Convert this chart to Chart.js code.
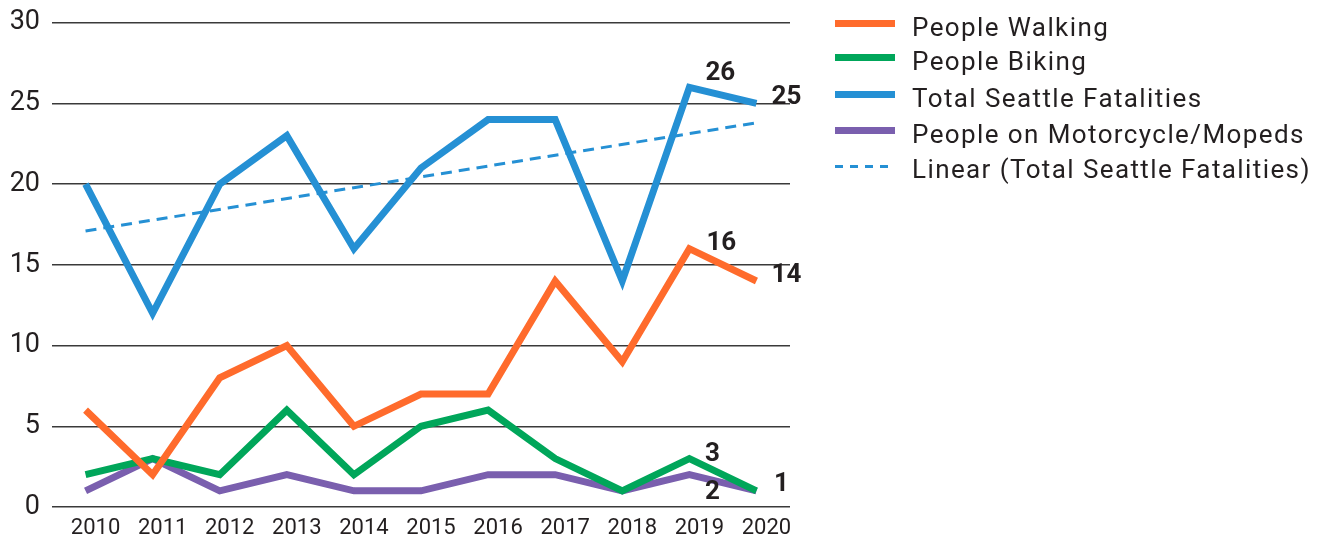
<!DOCTYPE html>
<html>
<head>
<meta charset="utf-8">
<script src="https://cdn.jsdelivr.net/npm/chart.js@4/dist/chart.umd.min.js"></script>
<style>
  html, body { margin: 0; padding: 0; background: #ffffff; overflow: hidden; }
  #wrap { position: relative; width: 1322px; height: 542px; }
  #c { position: absolute; left: 0; top: 0; }
  .lg { position: absolute; left: 835px; font-family: Roboto, "Noto Sans", sans-serif; font-size: 26px; letter-spacing: 1.4px; color: #231f20; white-space: nowrap; }
  .lg .sw { position: absolute; left: 0; width: 60px; height: 0; }
  .lg .tx { position: absolute; left: 77px; line-height: 30px; top: -12px; }
</style>
</head>
<body>
<div id="wrap">
  <canvas id="c" width="1322" height="542"></canvas>
  <div id="legend"></div>
</div>
<script>
// ---- data ----
const years = ['2010','2011','2012','2013','2014','2015','2016','2017','2018','2019','2020'];
const walking    = [6, 2, 8, 10, 5, 7, 7, 14, 9, 16, 14];
const biking     = [2, 3, 2, 6, 2, 5, 6, 3, 1, 3, 1];
const total      = [20, 12, 20, 23, 16, 21, 24, 24, 14, 26, 25];
const motorcycle = [1, 3, 1, 2, 1, 1, 2, 2, 1, 2, 1];
// linear trend end values (2010 and 2020)
const trendLine  = [17.1, null, null, null, null, null, null, null, null, null, 23.8];
const yTicks     = [0, 5, 10, 15, 20, 25, 30];
const seriesNames = ['People Walking', 'People Biking', 'Total Seattle Fatalities', 'People on Motorcycle/Mopeds', 'Linear (Total Seattle Fatalities)'];

// ---- styles ----
const colors = ['#ff6b2c', '#00a65a', '#2590d4', '#7a5fae', '#2590d4'];

// value labels: [datasetIndex, pointIndex, dx, dy]
const labelSpecs = [
  [2, 9, 31, -14], [2, 10, 30, -6],
  [0, 9, 32, -5],  [0, 10, 30, -5],
  [1, 9, 23, -4],  [1, 10, 25, -6],
  [3, 9, 23, 18]
];

const valueLabels = {
  id: 'valueLabels',
  afterDatasetsDraw(chart) {
    const ctx = chart.ctx;
    ctx.save();
    ctx.font = 'bold 26px Roboto, "Noto Sans", sans-serif';
    ctx.fillStyle = '#231f20';
    ctx.textAlign = 'center';
    ctx.textBaseline = 'middle';
    labelSpecs.forEach(([d, i, dx, dy]) => {
      const pt = chart.getDatasetMeta(d).data[i];
      const v = chart.data.datasets[d].data[i];
      ctx.fillText(String(v), pt.x + dx, pt.y + dy);
    });
    ctx.restore();
  }
};

const lineDs = (label, data, color, extra) => Object.assign({
  label, data, borderColor: color, backgroundColor: color,
  borderWidth: 7, pointRadius: 0, pointHoverRadius: 0, pointBorderWidth: 0,
  tension: 0, borderJoinStyle: 'miter', borderCapStyle: 'butt', fill: false
}, extra || {});

const chart = new Chart(document.getElementById('c'), {
  type: 'line',
  data: {
    labels: years,
    datasets: [
      lineDs(seriesNames[0], walking, colors[0]),
      lineDs(seriesNames[1], biking, colors[1]),
      lineDs(seriesNames[2], total, colors[2]),
      lineDs(seriesNames[3], motorcycle, colors[3]),
      lineDs(seriesNames[4], trendLine, colors[4], { borderWidth: 3, borderDash: [11, 7], spanGaps: true })
    ]
  },
  options: {
    responsive: false,
    animation: false,
    events: [],
    layout: { autoPadding: false, padding: { left: 10, right: 532, top: 22.7, bottom: 0 } },
    plugins: { legend: { display: false }, tooltip: { enabled: false } },
    scales: {
      x: {
        offset: true,
        grid: { display: false, drawTicks: false },
        border: { display: false },
        ticks: { font: { family: 'Roboto', size: 22 }, color: '#231f20', labelOffset: 10, padding: 8, maxRotation: 0, autoSkip: false },
        afterFit(axis) { axis.height = 35; axis.paddingLeft = 0; axis.paddingRight = 0; }
      },
      y: {
        min: 0, max: 30,
        afterBuildTicks(axis) { axis.ticks = yTicks.map(v => ({ value: v })); },
        grid: { color: '#3a3a3a', lineWidth: 1.5, drawTicks: false },
        border: { display: false },
        ticks: { font: { family: 'Roboto', size: 27 }, color: '#231f20', padding: 12 },
        afterFit(axis) { axis.width = 42; axis.paddingTop = 0; axis.paddingBottom = 0; }
      }
    }
  },
  plugins: [valueLabels]
});

// ---- HTML legend ----
const legendRowsY = [24, 58, 95, 131, 166];
const legend = document.getElementById('legend');
seriesNames.forEach((name, i) => {
  const row = document.createElement('div');
  row.className = 'lg';
  row.style.top = legendRowsY[i] + 'px';
  const sw = document.createElement('div');
  sw.className = 'sw';
  if (i === 4) {
    sw.style.top = '-1px';
    sw.style.width = '54px';
    sw.style.height = '3px';
    sw.style.background = 'repeating-linear-gradient(to right, ' + colors[i] + ' 0 8px, transparent 8px 15px)';
  } else {
    sw.style.height = '7px';
    sw.style.top = '-4px';
    sw.style.background = colors[i];
  }
  const tx = document.createElement('div');
  tx.className = 'tx';
  tx.textContent = name;
  row.appendChild(sw);
  row.appendChild(tx);
  legend.appendChild(row);
});
</script>
</body>
</html>
